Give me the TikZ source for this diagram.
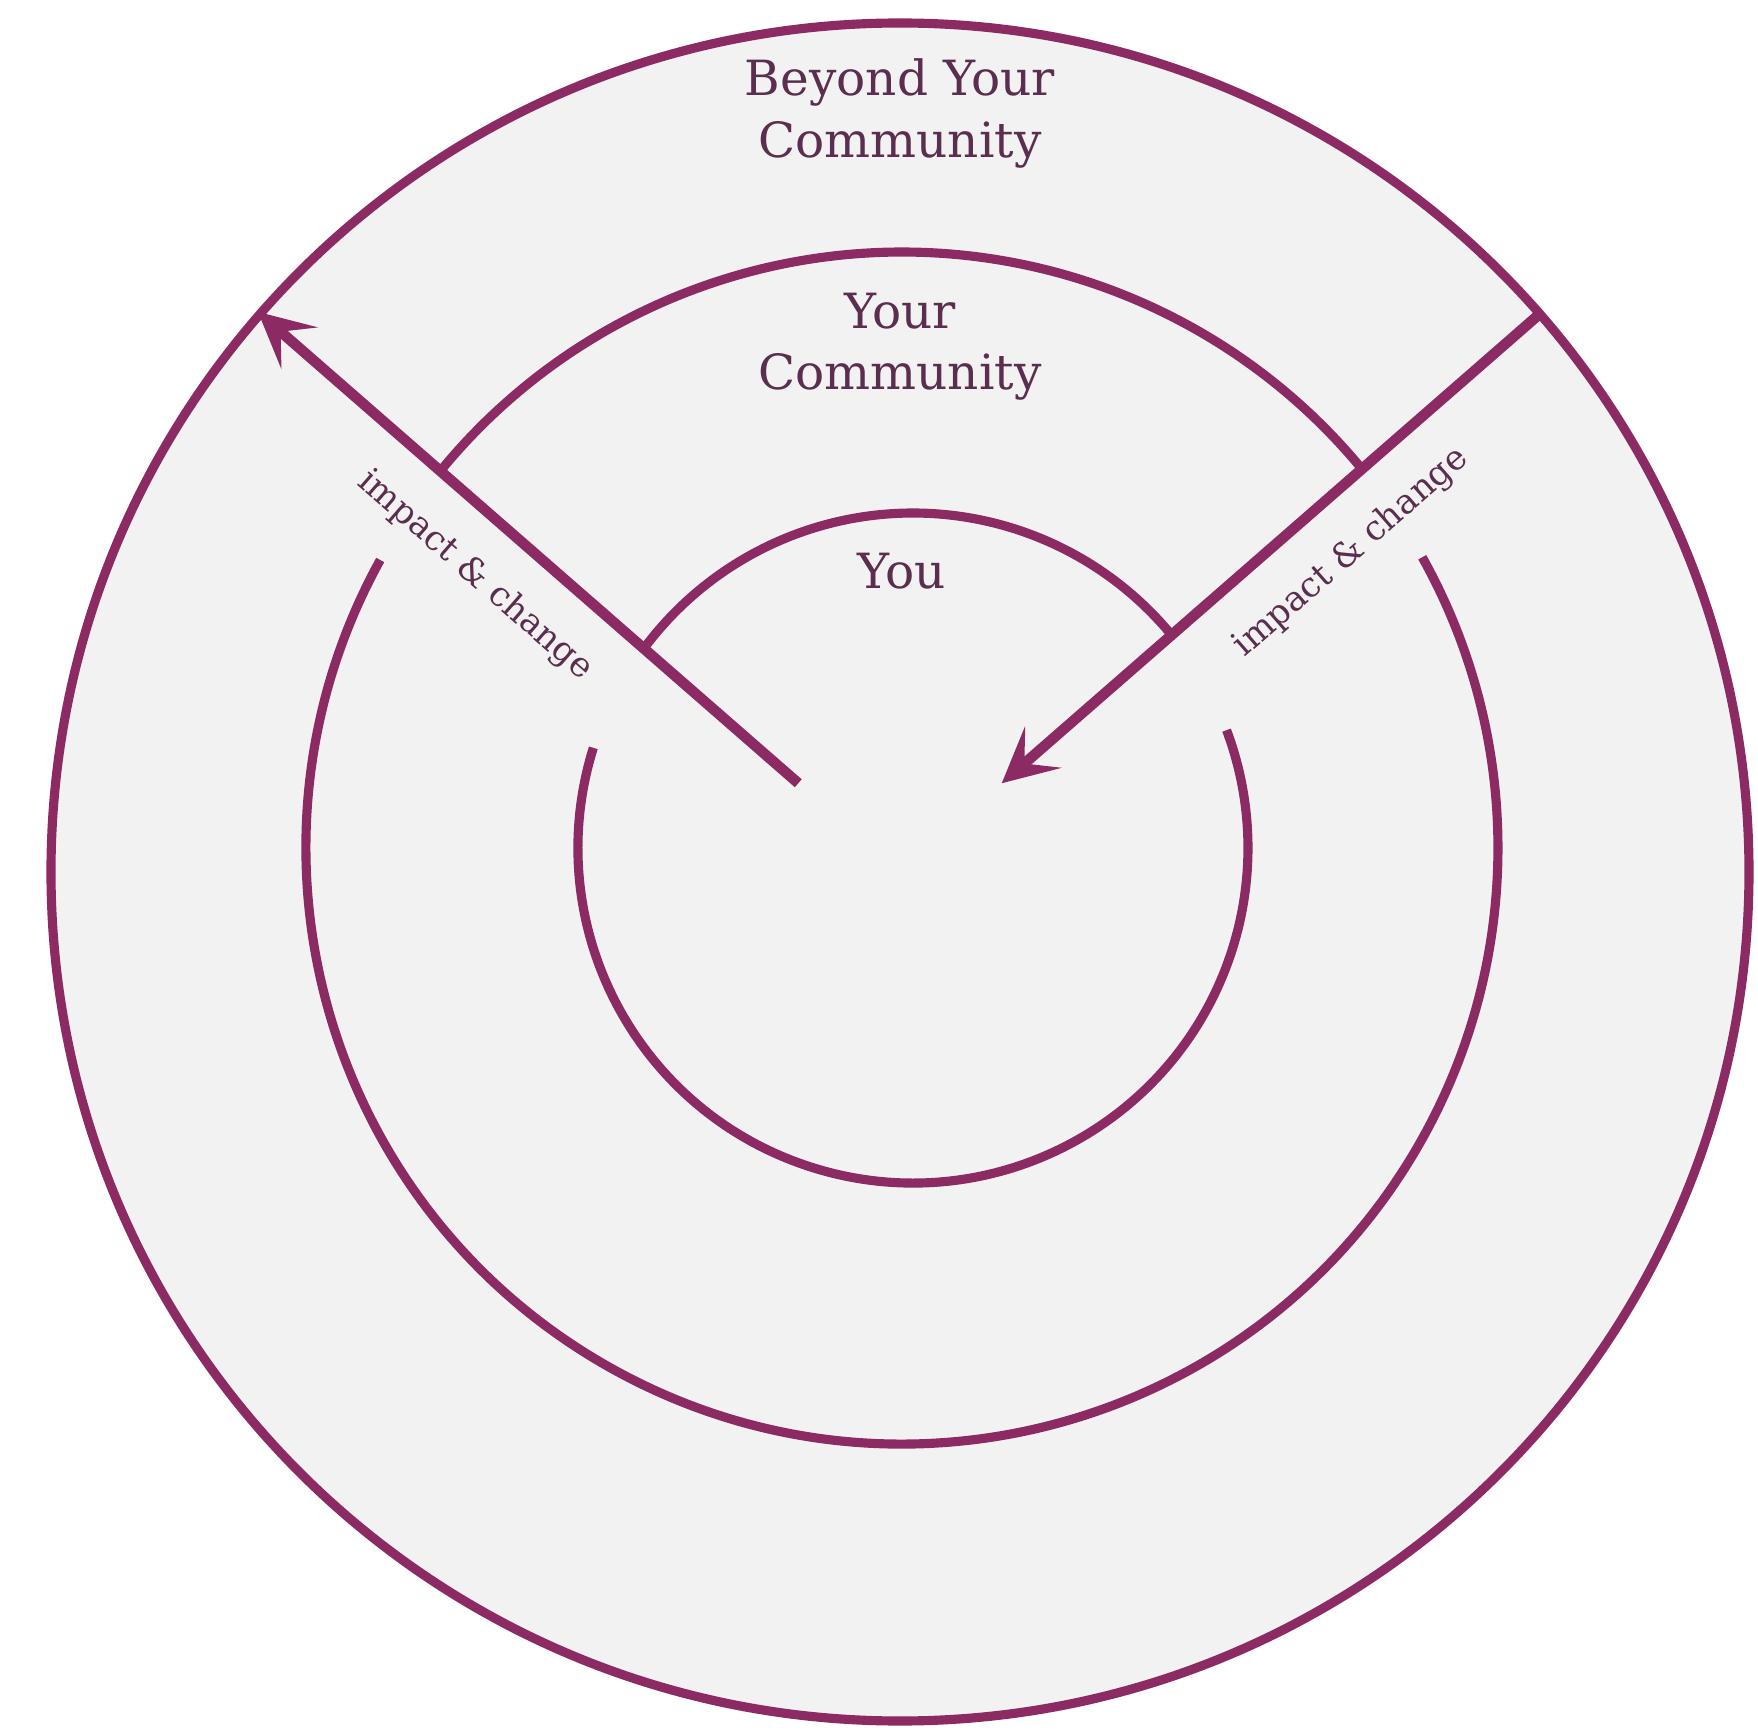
\documentclass[tikz,border=0pt]{standalone}
\usepackage{fontspec}
\setmainfont{DejaVu Serif}
\usetikzlibrary{arrows.meta, calc}
\definecolor{ring}{HTML}{8C2A64}
\definecolor{ringtext}{HTML}{5B2D4E}
\definecolor{fillgray}{HTML}{F2F2F2}

\begin{document}
\begin{tikzpicture}[
  ring line/.style={draw=ring, line width=2.6pt},
  change arrow/.style={draw=ring, line width=3pt, -{Stealth[length=5.5mm, width=5.5mm, inset=2.5mm]}},
  ring label/.style={text=ringtext, font=\fontsize{13.8}{17.5}\selectfont, align=center, inner sep=0pt},
  arrow label/.style={text=ringtext, font=\fontsize{9.8}{11}\selectfont}
]
  \fill[white] (-9.00,-8.57) rectangle (8.58,8.72);
  \useasboundingbox (-9.00,-8.57) rectangle (8.58,8.72);
  \coordinate (cOut) at (0,0);
  \coordinate (cMid) at (0.02,0.24);
  \coordinate (cIn) at (0.13,0.24);
  \draw[ring line, fill=fillgray] (cOut) circle (8.49);
  % rings, broken where the arrows cross
  \foreach \c/\r/\a/\b in {cMid/5.96/39.5/140.8, cMid/5.96/151.1/389.2,
                           cIn/3.35/39.5/143.5, cIn/3.35/162.6/380.6}
    \draw[ring line] ($(\c)+(\a:\r)$) arc[start angle=\a, end angle=\b, radius=\r];
  % impact arrows
  \coordinate (inL) at (138.9:1.35);
  \coordinate (outL) at (138.9:8.52);
  \coordinate (outR) at (41.1:8.50);
  \coordinate (inR) at (41.1:1.35);
  \draw[change arrow] (inL) -- (outL);
  \draw[change arrow] (outR) -- (inR);
  \node[ring label, anchor=north] (beyond) at (0,8.14) {Beyond Your\\Community};
  \node[ring label, anchor=north] (community) at (0,5.80) {Your\\Community};
  \node[ring label, anchor=north] (you) at (0.02,3.20) {You};
  \node[arrow label, rotate=-41.1] (impactL) at ($(138.9:5.15)+(228.9:0.56)$) {impact \& change};
  \node[arrow label, rotate=41.1] (impactR) at ($(41.1:5.50)+(-48.9:0.56)$) {impact \& change};
\end{tikzpicture}
\end{document}
